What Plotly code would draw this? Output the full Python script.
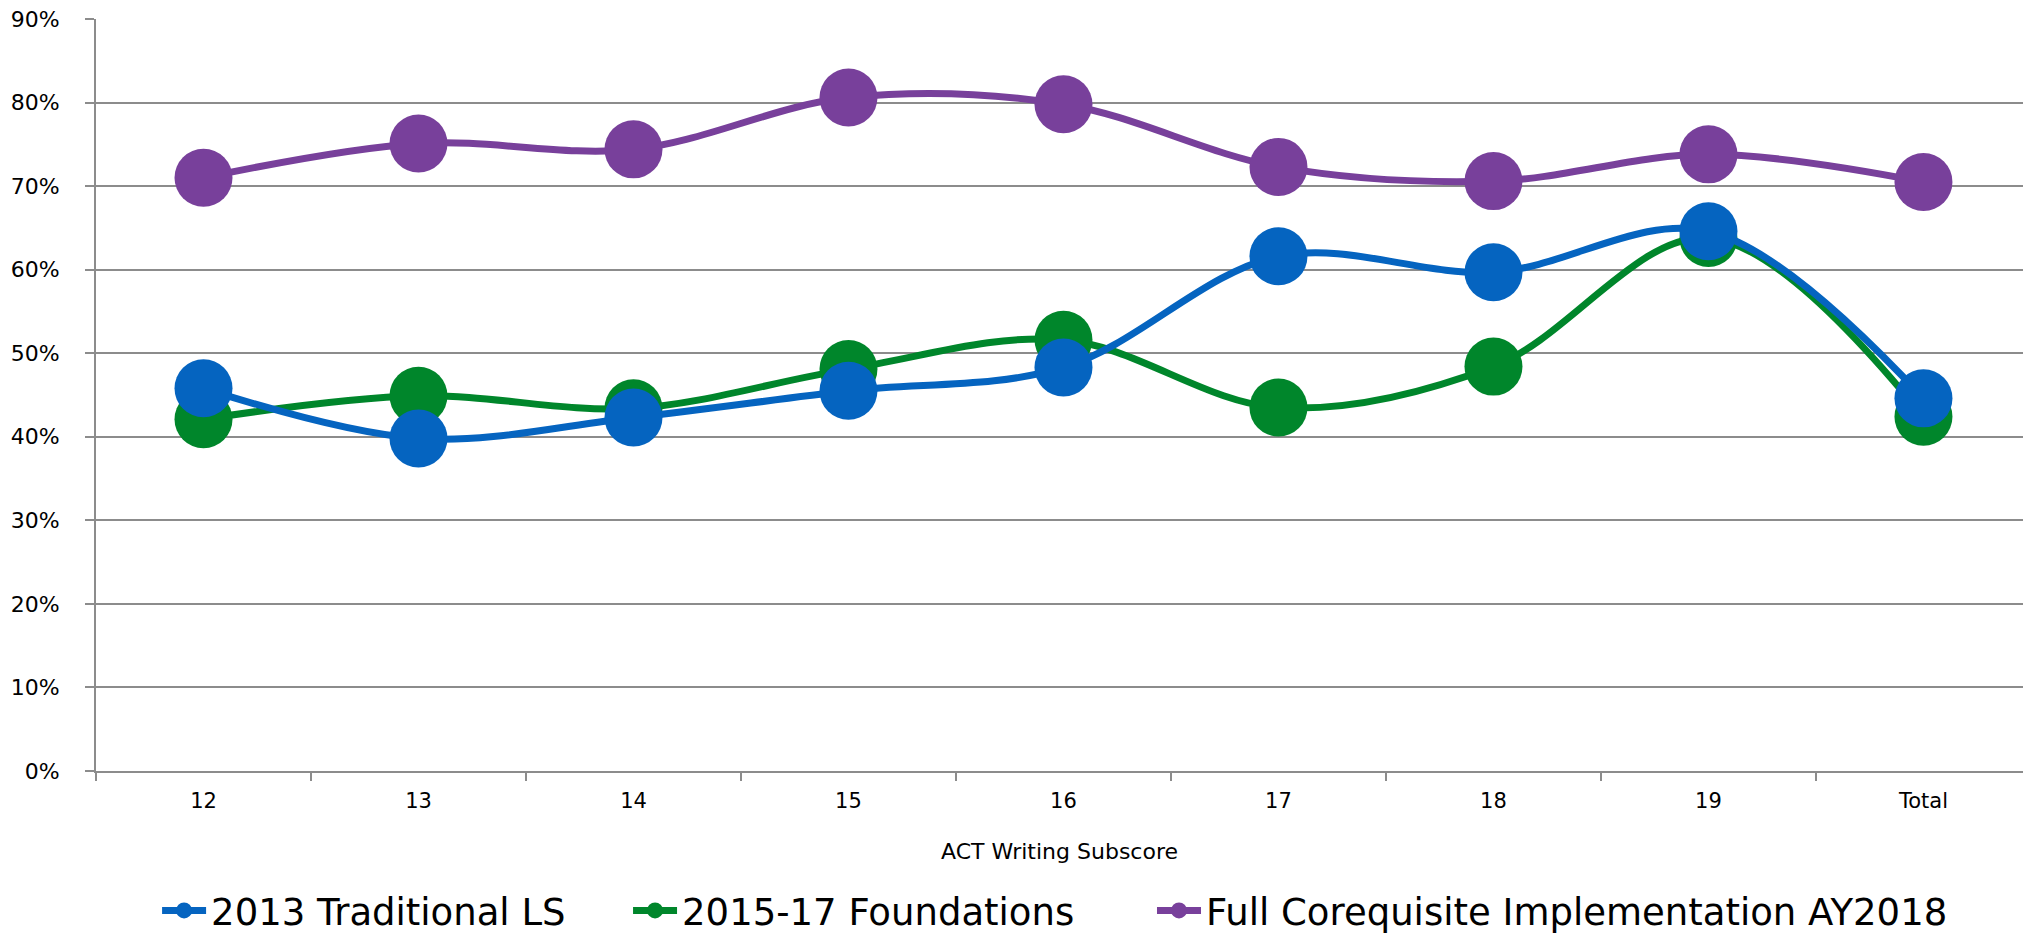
import plotly.graph_objects as go

categories = ["12", "13", "14", "15", "16", "17", "18", "19", "Total"]
traditional_2013 = [0.458, 0.398, 0.423, 0.455, 0.483, 0.616, 0.597, 0.646, 0.446]
foundations_2015_17 = [0.421, 0.449, 0.434, 0.481, 0.516, 0.435, 0.484, 0.638, 0.424]
full_coreq_ay2018 = [0.710, 0.751, 0.744, 0.806, 0.798, 0.723, 0.706, 0.738, 0.705]
y_ticks = [0, 0.1, 0.2, 0.3, 0.4, 0.5, 0.6, 0.7, 0.8, 0.9]

# (name, values, colour, legend id, legend x in plot-area fraction)
series = [
    ("Full Corequisite Implementation AY2018", full_coreq_ay2018, "#78409B", "legend3", 0.548),
    ("2015-17 Foundations", foundations_2015_17, "#00862B", "legend2", 0.2761),
    ("2013 Traditional LS", traditional_2013, "#0564C0", "legend", 0.0317),
]

font_family = "DejaVu Sans"
grid_color = "#8C8C8C"

fig = go.Figure()
legends = {}
for name, vals, color, leg, lx in series:
    fig.add_trace(go.Scatter(
        x=categories, y=vals, name=name, mode="lines+markers",
        line=dict(color=color, width=7, shape="spline", smoothing=1.0),
        marker=dict(color=color, size=58, line=dict(width=0)),
        legend=leg,
    ))
    legends[leg] = dict(
        orientation="h", x=lx, xanchor="left", y=-0.186, yanchor="middle",
        font=dict(size=37, family=font_family, color="black"),
        itemwidth=44, bgcolor="rgba(0,0,0,0)", borderwidth=0,
    )

fig.update_layout(
    width=2023, height=937,
    margin=dict(l=96, r=0, t=19, b=166, autoexpand=False),
    paper_bgcolor="white", plot_bgcolor="white",
    font=dict(family=font_family, color="black"),
    showlegend=True,
    **legends,
)

fig.update_xaxes(
    type="category", categoryorder="array", categoryarray=categories,
    range=[-0.5, 8.463], automargin=False,
    showgrid=False, showline=True, linecolor=grid_color, linewidth=2,
    ticks="outside", tickson="boundaries", ticklen=8, tickwidth=2, tickcolor=grid_color,
    tickfont=dict(size=21, family=font_family, color="black"),
    ticklabelstandoff=10,
    title=dict(text="ACT Writing Subscore", font=dict(size=22, family=font_family, color="black"), standoff=31),
    zeroline=False, fixedrange=True,
)

fig.update_yaxes(
    range=[0, 0.9], tickvals=y_ticks, tickformat=".0%", automargin=False,
    showgrid=True, gridcolor=grid_color, gridwidth=2,
    showline=True, linecolor=grid_color, linewidth=2,
    ticks="outside", ticklen=9, tickwidth=2, tickcolor=grid_color,
    tickfont=dict(size=22, family=font_family, color="black"),
    ticklabelstandoff=21,
    zeroline=False, fixedrange=True,
)

fig.write_html(
    "out.html",
    config={"displayModeBar": False},
    post_script="document.body.style.margin='0';document.body.style.overflow='hidden';",
)
